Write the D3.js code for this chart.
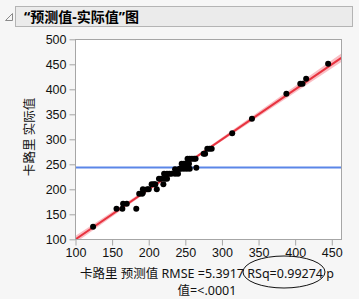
<!DOCTYPE html>
<html><head><meta charset="utf-8">
<script src="https://cdn.jsdelivr.net/npm/d3@7"></script>
<style>
html,body{margin:0;padding:0;background:#f6f6f6;}
svg{display:block;font-family:"Segoe UI","Noto Sans","Noto Sans CJK SC",sans-serif;}
</style></head><body>
<svg id="c" width="359" height="299"></svg>
<script>
const title = "“预测值-实际值”图";
const xTicks = [100,150,200,250,300,350,400,450];
const yTicks = [100,150,200,250,300,350,400,450,500];
const predicted = [124,156,164,165,170,183,187,191,192,192,198,200,204,207,211,209,214,217,220,222,225,221,225,228,231,236,240,236,242,244,248,252,256,245,248,250,253,255,253,256,259,262,264,265,275,277,280,283,286,314,341,388,407,410,415,445];
const actual    = [125,161,161,171,171,161,191,191,193,200,200,200,210,210,200,210,221,221,210,221,221,231,231,231,231,231,231,240,241,241,241,241,241,251,251,251,251,251,261,261,261,261,261,243,271,271,281,281,281,312,341,391,411,411,421,451];
const meanActual = 243.5;
const bandX = [100,160,243,330,400,463];
const bandHalf = [7,4.5,2.5,4.5,6.5,8.5];
const xLabel = "卡路里 预测值 RMSE =5.3917 RSq=0.99274 p";
const xLabel2 = "值=<.0001";
const yLabel = "卡路里 实际值";

const svg = d3.select("#c");
// header
svg.append("rect").attr("x",15.5).attr("y",6.5).attr("width",337).attr("height",20)
  .attr("fill","#ebebeb").attr("stroke","#b4b4b4");
svg.append("path").attr("d","M5.5,20.5 L12.5,20.5 L12.5,13.5 Z").attr("fill","none").attr("stroke","#8a8a8a");
svg.append("text").attr("x",24).attr("y",22).attr("font-size",14).attr("font-weight","bold")
  .attr("fill","#000").text(title);

const x = d3.scaleLinear().domain([100,463]).range([75.5,341.3]);
const y = d3.scaleLinear().domain([100,500]).range([239.3,39.3]);

svg.append("rect").attr("x",75.5).attr("y",39.5).attr("width",266).attr("height",200)
  .attr("fill","#fff").attr("stroke","none");

const defs = svg.append("defs");
defs.append("clipPath").attr("id","clip").append("rect")
  .attr("x",75.5).attr("y",39.5).attr("width",266).attr("height",200);
const g = svg.append("g").attr("clip-path","url(#clip)");

// confidence band
const area = d3.area().curve(d3.curveMonotoneX)
  .x((d,i)=>x(bandX[i])).y0((d,i)=>y(bandX[i]-bandHalf[i])).y1((d,i)=>y(bandX[i]+bandHalf[i]));
g.append("path").datum(bandX).attr("d",area).attr("fill","#f7a9b1").attr("opacity",0.75);
// fit line
g.append("line").attr("x1",x(100)).attr("y1",y(100)).attr("x2",x(463)).attr("y2",y(463))
  .attr("stroke","#e8333f").attr("stroke-width",2);
// mean line
g.append("line").attr("x1",x(100)).attr("x2",x(463)).attr("y1",y(meanActual)).attr("y2",y(meanActual))
  .attr("stroke","#5b86e8").attr("stroke-width",2);
// points
g.selectAll("circle").data(predicted).join("circle")
  .attr("cx",d=>x(d)).attr("cy",(d,i)=>y(actual[i])).attr("r",3).attr("fill","#000");

// frame
svg.append("rect").attr("x",75.5).attr("y",39.5).attr("width",266).attr("height",200)
  .attr("fill","none").attr("stroke","#a6a6a6");

// axes
const ax = svg.append("g").attr("transform","translate(0,239.5)")
  .call(d3.axisBottom(x).tickValues(xTicks).tickSize(6).tickSizeOuter(0).tickPadding(3));
const ay = svg.append("g").attr("transform","translate(75.5,0)")
  .call(d3.axisLeft(y).tickValues(yTicks).tickSize(6).tickSizeOuter(0).tickPadding(3));
[ax,ay].forEach(a=>{
  a.select(".domain").remove();
  a.selectAll(".tick line").attr("stroke","#a6a6a6");
  a.selectAll(".tick text").attr("font-size",12.5).attr("fill","#111").attr("font-family",null);
});

svg.append("text").attr("x",207).attr("y",278).attr("text-anchor","middle")
  .attr("font-size",12.5).attr("fill","#111").text(xLabel);
svg.append("text").attr("x",207).attr("y",295).attr("text-anchor","middle")
  .attr("font-size",12.5).attr("fill","#111").text(xLabel2);
svg.append("text").attr("transform","translate(34,137) rotate(-90)").attr("text-anchor","middle")
  .attr("font-size",12.5).attr("fill","#111").text(yLabel);
svg.append("ellipse").attr("cx",284).attr("cy",272).attr("rx",41).attr("ry",16)
  .attr("fill","none").attr("stroke","#111").attr("stroke-width",1);
</script></body></html>
